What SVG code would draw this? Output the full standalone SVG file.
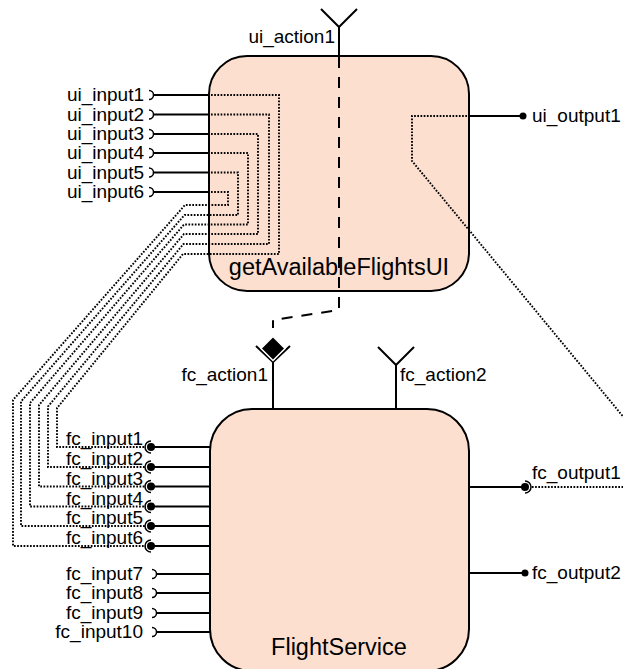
<svg xmlns="http://www.w3.org/2000/svg" width="623" height="669" viewBox="0 0 623 669">
<style>
.box{fill:#fddfd0;stroke:#000;stroke-width:2}
.ln{fill:none;stroke:#000;stroke-width:2}
.th{fill:none;stroke:#000;stroke-width:1.5}
.dot{fill:none;stroke:#000;stroke-width:1.9;stroke-dasharray:1.7 1.5}
.dash{fill:none;stroke:#000;stroke-width:2;stroke-dasharray:11 9}
.lbl{font-family:"Liberation Sans",Arial,sans-serif;font-size:19px;fill:#000}
.r{text-anchor:end}
.name{font-family:"Liberation Sans",Arial,sans-serif;font-size:23.5px;fill:#000;text-anchor:middle}
</style>
<g id="getAvailableFlightsUI">
<rect class="box" x="209" y="56" width="260" height="235" rx="38" ry="38"/>
<text class="name" x="339" y="275">getAvailableFlightsUI</text>
</g>
<g id="FlightService">
<rect class="box" x="210" y="409" width="259" height="262" rx="42" ry="42"/>
<text class="name" x="339" y="655">FlightService</text>
</g>
<g id="connectors">
<path class="dot" d="M211,95 H279 V254 H183 L57,408 V447 H146"/>
<path class="dot" d="M211,114.5 H269 V244 H183.5 L48,406.5 V467 H146"/>
<path class="dot" d="M211,134 H258 V234 H184 L39,405 V486.5 H146"/>
<path class="dot" d="M211,153 H248 V224.5 H184 L30,403 V506.5 H146"/>
<path class="dot" d="M211,172.5 H238 V215 H184.5 L21,401.5 V526 H146"/>
<path class="dot" d="M211,192 H228 V205 H185 L13,400 V546 H146"/>
<path class="dot" d="M467,116 H412 V161 L640,437 V487 H531"/>
<path class="dash" d="M339,57 V310 L273,320 V328"/>
</g>
<g id="ui_action1">
<path class="ln" d="M339,56 V27 M339,27 L321,9 M339,27 L357,9"/>
<text class="lbl r" x="335" y="43">ui_action1</text>
</g>
<g id="fc_action1">
<path class="ln" d="M273,409 V362 M273,362 L256,346 M273,362 L290,346"/>
<polygon points="273,336.5 285,348.5 273,360.5 261,348.5" fill="#000" stroke="#fff" stroke-width="1.5"/>
<text class="lbl r" x="268" y="381">fc_action1</text>
</g>
<g id="fc_action2">
<path class="ln" d="M396,409 V365 M396,365 L378,347 M396,365 L414,347"/>
<text class="lbl" x="400" y="381">fc_action2</text>
</g>
<g id="ui_inputs">
<path class="ln" d="M153.5,95 H209 M153.5,114.5 H209 M153.5,134 H209 M153.5,153 H209 M153.5,172.5 H209 M153.5,192 H209"/>
<path class="th" d="M149,90.5 A4.5,4.5 0 0 1 149,99.5 M149,110 A4.5,4.5 0 0 1 149,119 M149,129.5 A4.5,4.5 0 0 1 149,138.5 M149,148.5 A4.5,4.5 0 0 1 149,157.5 M149,168 A4.5,4.5 0 0 1 149,177 M149,187.5 A4.5,4.5 0 0 1 149,196.5"/>
<text class="lbl r" x="144" y="101">ui_input1</text>
<text class="lbl r" x="144" y="120.5">ui_input2</text>
<text class="lbl r" x="144" y="140">ui_input3</text>
<text class="lbl r" x="144" y="159">ui_input4</text>
<text class="lbl r" x="144" y="178.5">ui_input5</text>
<text class="lbl r" x="144" y="198">ui_input6</text>
</g>
<g id="ui_output1">
<path class="ln" d="M469,116 H523"/>
<circle cx="523" cy="116" r="3.5" fill="#000"/>
<text class="lbl" x="532" y="122">ui_output1</text>
</g>
<g id="fc_inputs_assembled">
<path class="ln" d="M151,447 H210 M151,467 H210 M151,486.5 H210 M151,506.5 H210 M151,526 H210 M151,546 H210"/>
<g fill="#000">
<circle cx="151" cy="447" r="4"/><circle cx="151" cy="467" r="4"/><circle cx="151" cy="486.5" r="4"/>
<circle cx="151" cy="506.5" r="4"/><circle cx="151" cy="526" r="4"/><circle cx="151" cy="546" r="4"/>
</g>
<path class="th" d="M151,441 A6,6 0 0 0 151,453 M151,461 A6,6 0 0 0 151,473 M151,480.5 A6,6 0 0 0 151,492.5 M151,500.5 A6,6 0 0 0 151,512.5 M151,520 A6,6 0 0 0 151,532 M151,540 A6,6 0 0 0 151,552"/>
<text class="lbl r" x="143" y="445">fc_input1</text>
<text class="lbl r" x="143" y="465">fc_input2</text>
<text class="lbl r" x="143" y="484.5">fc_input3</text>
<text class="lbl r" x="143" y="504.5">fc_input4</text>
<text class="lbl r" x="143" y="524">fc_input5</text>
<text class="lbl r" x="143" y="544">fc_input6</text>
</g>
<g id="fc_inputs_open">
<path class="ln" d="M156.5,574 H210 M156.5,593 H210 M156.5,613 H210 M156.5,632 H210"/>
<path class="th" d="M152,569.5 A4.5,4.5 0 0 1 152,578.5 M152,588.5 A4.5,4.5 0 0 1 152,597.5 M152,608.5 A4.5,4.5 0 0 1 152,617.5 M152,627.5 A4.5,4.5 0 0 1 152,636.5"/>
<text class="lbl r" x="143" y="580">fc_input7</text>
<text class="lbl r" x="143" y="599">fc_input8</text>
<text class="lbl r" x="143" y="619">fc_input9</text>
<text class="lbl r" x="143" y="638">fc_input10</text>
</g>
<g id="fc_output1">
<path class="ln" d="M469,487 H525"/>
<circle cx="525" cy="487" r="4" fill="#000"/>
<path class="th" d="M525,481 A6,6 0 0 1 525,493"/>
<text class="lbl" x="532" y="479">fc_output1</text>
</g>
<g id="fc_output2">
<path class="ln" d="M469,573 H525"/>
<circle cx="525" cy="573" r="3.5" fill="#000"/>
<text class="lbl" x="532" y="579">fc_output2</text>
</g>
</svg>
